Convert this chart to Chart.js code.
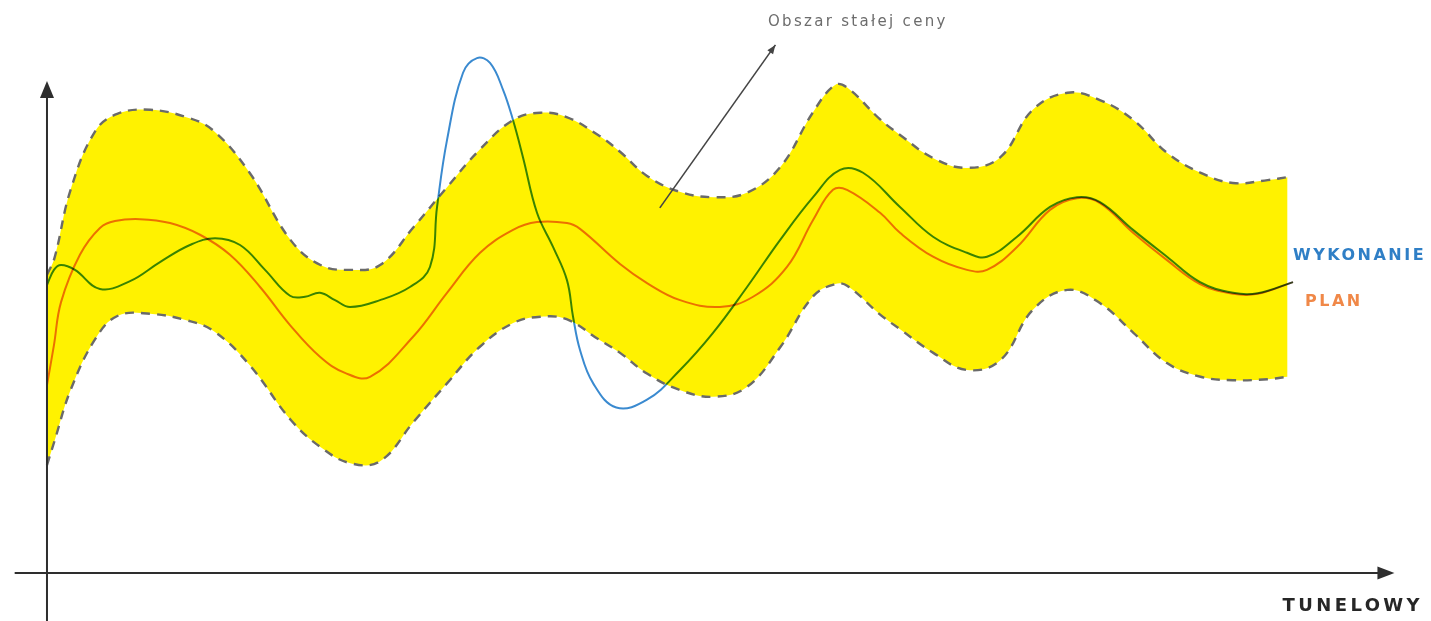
<!DOCTYPE html>
<html lang="pl">
<head>
<meta charset="utf-8">
<title>Tunelowy</title>
<script src="https://cdn.jsdelivr.net/npm/chart.js@4.4.1/dist/chart.umd.min.js"></script>
<style>
  html, body { margin: 0; padding: 0; background: #fff; }
  #wrap { width: 1431px; height: 621px; }
</style>
</head>
<body>
<div id="wrap"><canvas id="tunel" width="1431" height="621"></canvas></div>
<script>
// ====== DANE ======
// oś X: czas (0-100), oś Y: koszt (0-100)
const bandX = [0, 0.6, 1.9, 3.9, 5.7, 8.3, 11.2, 13.4, 16.3, 19.6, 22.0, 24.4, 26.8, 29.5, 32.2,
  34.8, 37.5, 39.7, 41.8, 44.3, 46.1, 48.3, 50.9, 53.6, 56.3, 59.0, 61.6, 63.4, 64.4, 67.0,
  68.6, 71.3, 74.0, 76.7, 79.3, 82.1, 84.7, 87.4, 90.1, 92.8, 95.4, 98.2, 99.8];
const bandUpper = [61.1, 64.5, 78.5, 90.6, 94.1, 94.9, 93.4, 90.6, 82.0, 68.2, 63.1, 62.1, 63.1, 70.9, 79.1,
  86.7, 92.8, 94.3, 93.4, 89.8, 86.3, 81.3, 78.1, 77.0, 77.9, 83.2, 94.3, 100.0, 99.4, 93.0,
  89.8, 85.0, 83.0, 85.2, 94.9, 98.4, 96.9, 92.8, 86.1, 82.0, 79.9, 80.5, 81.1];
const bandLower = [22.1, 27.0, 37.5, 48.0, 52.7, 53.1, 51.8, 49.6, 42.6, 31.4, 25.8, 22.5, 22.9, 31.0, 38.9,
  46.3, 51.2, 52.5, 52.0, 48.0, 45.1, 40.8, 37.5, 36.1, 38.1, 46.3, 56.6, 59.2, 58.8, 53.0,
  50.0, 45.1, 41.6, 43.6, 53.9, 58.0, 55.3, 49.2, 43.0, 40.2, 39.5, 39.7, 40.2];

const planX = [0, 0.56, 1.13, 2.65, 4.26, 5.47, 7.48, 9.9, 12.31, 14.72, 17.14, 19.55, 21.96, 23.97, 25.99,
  29.45, 32.18, 34.84, 37.49, 39.42, 41.83, 42.88, 46.1, 48.27, 50.93, 54.14, 56.8, 59.53, 61.63,
  63.23, 64.36, 67.02, 68.62, 71.28, 74.01, 75.62, 78.04, 80.69, 82.86, 84.71, 87.37, 90.1, 92.76, 95.41,
  97.4, 100.24];
const planY = [38.5, 46.7, 55.5, 65.2, 70.7, 72.1, 72.5, 71.7, 69.3, 65.2, 58.6, 50.8, 44.3, 41.0, 40.2,
  48.4, 57.4, 65.6, 70.3, 71.9, 71.7, 70.5, 63.3, 59.4, 55.9, 54.5, 56.6, 62.7, 72.3,
  78.5, 78.5, 73.8, 69.7, 64.8, 62.1, 62.1, 66.8, 74.4, 76.8, 75.8, 69.7, 64.1, 59.2, 57.2,
  57.2, 59.6];

const wykX = [0, 0.56, 1.13, 2.25, 4.26, 6.68, 9.09, 11.5, 13.52, 15.53, 17.54, 19.55, 20.76, 21.96, 23.17,
  24.38, 26.79, 29.2, 30.81, 31.38, 32.18, 33.47, 34.59, 35.64, 36.69, 37.49, 38.29, 39.42, 40.71, 41.83,
  42.32, 42.88, 43.93, 45.8, 48.27, 50.93, 53.58, 56.32, 58.97, 61.63, 63.8, 65.65, 68.62, 71.28, 74.01,
  75.62, 78.04, 80.69, 82.86, 84.71, 87.37, 90.1, 92.76, 95.41, 97.4, 100.24];
const wykY = [59.0, 62.1, 63.1, 62.1, 58.2, 59.8, 63.7, 67.2, 68.6, 67.2, 62.1, 56.8, 56.6, 57.4, 55.9,
  54.5, 55.9, 58.6, 62.7, 75.0, 88.7, 102.5, 105.5, 104.5, 99.0, 92.8, 85.2, 73.8, 66.8, 60.0,
  52.5, 45.7, 38.9, 33.9, 35.5, 41.6, 49.2, 58.6, 68.2, 77.0, 82.6, 82.0, 75.0, 68.9, 65.6,
  64.8, 68.9, 75.0, 77.0, 76.0, 70.3, 64.8, 59.6, 57.4, 57.3, 59.6];

const seriesNames = ['WYKONANIE', 'PLAN'];
const bandName = 'Obszar stałej ceny';
const axisName = 'TUNELOWY';

const colors = { wyk: '#3a8ad0', plan: '#ec7626', band: '#fff200', dash: '#6a6a6a', axis: '#2e2e2e' };

const toPts = (xs, ys) => xs.map((x, i) => ({ x: x, y: ys[i] }));

// linie wykonania/planu mnożone z żółtym tłem, jak na druku
const multiplyLines = {
  id: 'multiplyLines',
  beforeDatasetDraw(chart, args) {
    if (args.index < 2) {
      chart.ctx.save();
      chart.ctx.globalCompositeOperation = 'multiply';
    }
  },
  afterDatasetDraw(chart, args) {
    if (args.index < 2) chart.ctx.restore();
  }
};

function arrowHead(ctx, tipX, tipY, angle, len, half) {
  ctx.save();
  ctx.translate(tipX, tipY);
  ctx.rotate(angle);
  ctx.beginPath();
  ctx.moveTo(0, 0);
  ctx.lineTo(-len, -half);
  ctx.lineTo(-len, half);
  ctx.closePath();
  ctx.fill();
  ctx.restore();
}

// osie ze strzałkami + opisy
const decorations = {
  id: 'decorations',
  afterDatasetsDraw(chart) {
    const ctx = chart.ctx;
    const xs = chart.scales.x, ys = chart.scales.y;
    const x0 = xs.getPixelForValue(0), y0 = ys.getPixelForValue(0);

    ctx.save();
    ctx.strokeStyle = colors.axis;
    ctx.fillStyle = colors.axis;
    ctx.lineWidth = 2;

    const yTop = ys.getPixelForValue(100.8);
    ctx.beginPath();
    ctx.moveTo(x0, chart.height);
    ctx.lineTo(x0, yTop + 10);
    ctx.stroke();
    arrowHead(ctx, x0, yTop, -Math.PI / 2, 17, 7);

    const xEnd = xs.getPixelForValue(108.4);
    ctx.beginPath();
    ctx.moveTo(xs.getPixelForValue(-2.6), y0);
    ctx.lineTo(xEnd - 10, y0);
    ctx.stroke();
    arrowHead(ctx, xEnd, y0, 0, 17, 6.5);

    // strzałka do obszaru stałej ceny
    const ax1 = xs.getPixelForValue(49.3), ay1 = ys.getPixelForValue(74.8);
    const ax2 = xs.getPixelForValue(58.6), ay2 = ys.getPixelForValue(108.2);
    ctx.strokeStyle = '#444';
    ctx.fillStyle = '#444';
    ctx.lineWidth = 1.6;
    ctx.beginPath();
    ctx.moveTo(ax1, ay1);
    ctx.lineTo(ax2, ay2);
    ctx.stroke();
    arrowHead(ctx, ax2, ay2, Math.atan2(ay2 - ay1, ax2 - ax1), 9, 3.5);

    ctx.textBaseline = 'middle';
    ctx.textAlign = 'left';
    ctx.fillStyle = '#6c6c6c';
    ctx.font = '15px "DejaVu Sans", sans-serif';
    ctx.letterSpacing = '2.3px';
    ctx.fillText(bandName, xs.getPixelForValue(58.0), ys.getPixelForValue(112.9));

    ctx.font = 'bold 16px "DejaVu Sans", sans-serif';
    ctx.letterSpacing = '2.5px';
    ctx.fillStyle = '#2f7fc6';
    ctx.fillText(seriesNames[0], xs.getPixelForValue(100.24), ys.getPixelForValue(65.0));
    ctx.fillStyle = '#f08848';
    ctx.fillText(seriesNames[1], xs.getPixelForValue(101.2), ys.getPixelForValue(55.6));
    ctx.font = 'bold 18px "DejaVu Sans", sans-serif';
    ctx.letterSpacing = '3.4px';
    ctx.fillStyle = '#262626';
    ctx.fillText(axisName, xs.getPixelForValue(99.4), ys.getPixelForValue(-6.9));
    ctx.restore();
  }
};

const lineDefaults = { pointRadius: 0, borderWidth: 2, tension: 0.4, fill: false };

new Chart(document.getElementById('tunel'), {
  type: 'line',
  data: {
    datasets: [
      Object.assign({ label: seriesNames[0], data: toPts(wykX, wykY), borderColor: colors.wyk }, lineDefaults),
      Object.assign({ label: seriesNames[1], data: toPts(planX, planY), borderColor: colors.plan }, lineDefaults),
      Object.assign({}, lineDefaults, {
        label: bandName, data: toPts(bandX, bandUpper), borderColor: colors.dash,
        borderDash: [9, 7], borderWidth: 2.4, backgroundColor: colors.band, fill: '+1'
      }),
      Object.assign({}, lineDefaults, {
        label: bandName + ' (dół)', data: toPts(bandX, bandLower), borderColor: colors.dash,
        borderDash: [9, 7], borderWidth: 2.4
      })
    ]
  },
  options: {
    responsive: false,
    devicePixelRatio: 1,
    animation: false,
    layout: { padding: 0 },
    plugins: {
      legend: { display: false },
      tooltip: { enabled: false },
      filler: { drawTime: 'beforeDatasetsDraw' }
    },
    scales: {
      x: { type: 'linear', min: -3.78, max: 111.34, display: false },
      y: { type: 'linear', min: -9.84, max: 117.4, display: false }
    }
  },
  plugins: [multiplyLines, decorations]
});
</script>
</body>
</html>
